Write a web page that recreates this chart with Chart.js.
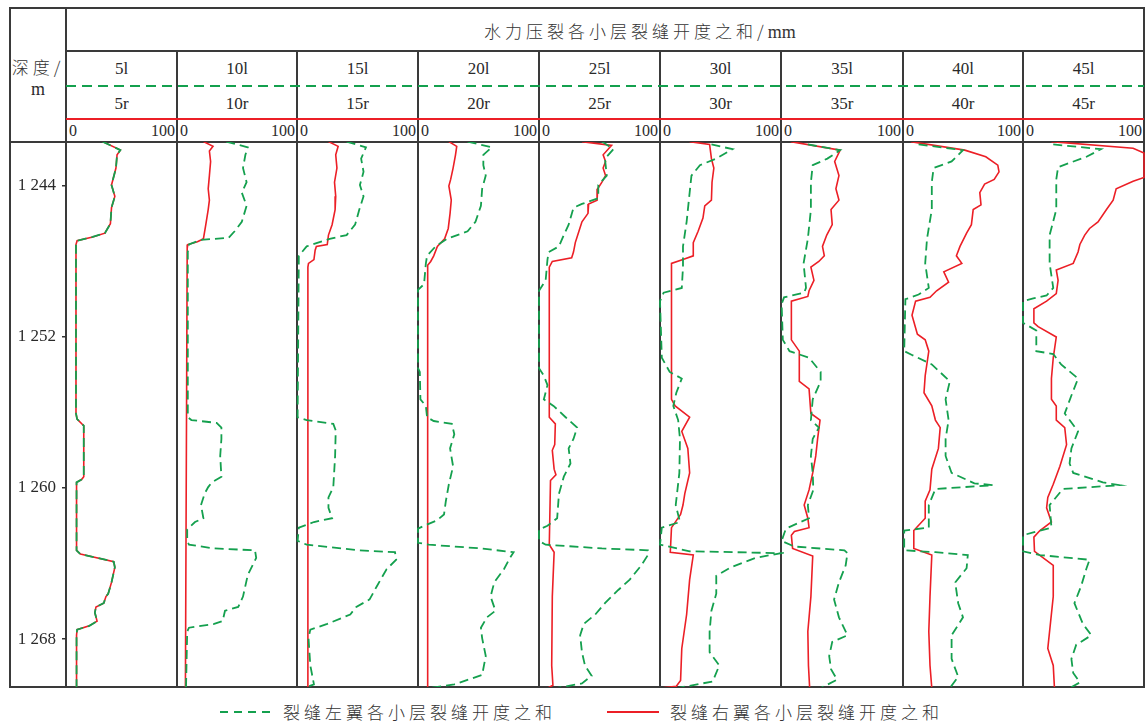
<!DOCTYPE html>
<html>
<head>
<meta charset="utf-8">
<script src="https://cdn.jsdelivr.net/npm/chart.js@4.4.1/dist/chart.umd.min.js"></script>
<style>
body { margin: 0; width: 1147px; height: 724px; overflow: hidden; position: relative; background: #fff;
       font-family: "Liberation Serif", "Noto Sans CJK SC", serif; color: #2a2a2a; }
.ln { position: absolute; background: #3a3a3a; z-index: 1; }
.t { position: absolute; white-space: nowrap; line-height: 1; }
.cjk { font-family: "Noto Sans CJK SC", sans-serif; font-weight: 300; font-size: 17px; letter-spacing: 4px; color: #333; }
canvas { position: absolute; z-index: 2; }
</style>
</head>
<body>
<script>
// depth range and tick labels
const depthMin = 1241.67;
const depthMax = 1270.54;
const depthTicks = [1244, 1252, 1260, 1268];
const depthTickLabels = ['1 244', '1 252', '1 260', '1 268'];

const leftLabels = ['5l', '10l', '15l', '20l', '25l', '30l', '35l', '40l', '45l'];
const rightLabels = ['5r', '10r', '15r', '20r', '25r', '30r', '35r', '40r', '45r'];

// [depth m, aperture sum mm]
const l5 = [[1241.65,33],[1242.1,49],[1242.35,46],[1243.05,45],[1243.95,41],[1244.55,44],[1245.15,41],[1246.0,40],[1246.5,35],[1246.7,24],[1246.9,10],[1247.1,9],[1256.05,9],[1256.35,10],[1256.7,16],[1259.4,16],[1259.55,14],[1259.7,9.5],[1263.3,9.5],[1263.5,13],[1263.9,43],[1264.2,44],[1265.0,41],[1265.6,38],[1265.75,36],[1266.1,34],[1266.3,27],[1266.6,26],[1267.05,28],[1267.3,21],[1267.5,10],[1267.8,9.5],[1270.6,9.5]];
const r5 = [[1241.65,33],[1242.1,49],[1242.35,46],[1243.05,45],[1243.95,41],[1244.55,44],[1245.15,41],[1246.0,40],[1246.5,35],[1246.7,24],[1246.9,10],[1247.1,9],[1256.05,9],[1256.35,10],[1256.7,16],[1259.4,16],[1259.55,14],[1259.7,9.5],[1263.3,9.5],[1263.5,13],[1263.9,43],[1264.2,44],[1265.0,41],[1265.6,38],[1265.75,36],[1266.1,34],[1266.3,27],[1266.6,26],[1267.05,28],[1267.3,21],[1267.5,10],[1267.8,9.5],[1270.6,9.5]];

const l10 = [[1241.65,41],[1241.95,59],[1242.35,57],[1243.05,55],[1243.8,58],[1244.35,54],[1245.05,58],[1245.9,54],[1246.4,48],[1246.75,43],[1246.85,20],[1247.1,10],[1247.5,9],[1256.25,9],[1256.4,12],[1256.55,33],[1256.8,37],[1257.4,37],[1258.3,36],[1259.4,37],[1259.7,29],[1259.95,26],[1260.3,23],[1260.9,20],[1261.6,22],[1261.8,15],[1262.2,8.5],[1262.8,8.5],[1263.0,10],[1263.2,31],[1263.3,65],[1263.7,66],[1264.6,59],[1265.75,55],[1266.3,51],[1266.5,40],[1267.05,38],[1267.2,31],[1267.4,10],[1267.6,8.5],[1270.6,7.5]];
const r10 = [[1241.65,22],[1241.9,30],[1242.15,27],[1242.7,28],[1243.45,27],[1244.15,26],[1244.75,27],[1245.25,26],[1246.05,24],[1246.8,22],[1246.95,17],[1247.1,9],[1247.3,8.5],[1270.6,7]];

const l15 = [[1241.65,41],[1241.95,57],[1242.55,53],[1243.25,55],[1243.95,52],[1244.55,55],[1245.25,51.5],[1246.05,48],[1246.6,41],[1246.8,27],[1247.2,8],[1247.7,1.5],[1256.25,0.5],[1256.4,8],[1256.6,30],[1256.95,32],[1258.3,31.5],[1259.95,30],[1260.5,26],[1261.05,26],[1261.6,29],[1261.8,14],[1262.1,1.5],[1262.8,0.5],[1263.0,8],[1263.3,52],[1263.4,81],[1263.8,82],[1264.3,74],[1265.2,66],[1265.9,60],[1266.3,49],[1266.7,44],[1267.2,25],[1267.5,11],[1267.95,9.5],[1269.4,11],[1270.4,14],[1270.6,5.5]];
const r15 = [[1241.65,26],[1241.9,34],[1242.35,32],[1243.05,33],[1243.8,31],[1244.55,32],[1245.25,31.5],[1246.05,29],[1246.6,26],[1247.1,25],[1247.2,16],[1247.4,15],[1247.9,14],[1248.1,9.5],[1248.3,9],[1270.6,9]];

const l20 = [[1241.65,41],[1241.95,61],[1242.35,54],[1242.9,54],[1243.45,56],[1244.15,53],[1245.05,52],[1245.9,47.5],[1246.4,41],[1246.8,24],[1247.2,14.5],[1247.7,7.5],[1248.1,6.5],[1249.2,5],[1249.5,0],[1253.65,0],[1253.85,1.5],[1255.3,2],[1255.65,6.5],[1256.25,7.5],[1256.45,13],[1256.6,28],[1257.15,30],[1257.9,26.5],[1258.85,29],[1259.8,25.5],[1260.7,23],[1261.4,21.5],[1261.7,16],[1262.0,5],[1262.15,0],[1262.9,0],[1263.0,9],[1263.2,52],[1263.4,79],[1263.7,76],[1264.3,71],[1265.0,63],[1265.75,60],[1266.5,64],[1266.85,57],[1267.4,52],[1267.95,53],[1268.9,56],[1269.9,53],[1270.4,30],[1270.6,9]];
const r20 = [[1241.65,25.5],[1241.9,32],[1242.35,31],[1243.05,29],[1243.65,27],[1244.0,25.5],[1244.75,27.5],[1245.45,26.5],[1246.25,25],[1246.8,22],[1247.2,16],[1247.7,13],[1248.0,10.5],[1248.2,8],[1270.6,8]];

const l25 = [[1241.65,52],[1242.05,61.5],[1242.55,54.5],[1243.45,56],[1243.95,49],[1244.65,49],[1244.95,35.5],[1245.15,28.5],[1246.05,24.5],[1246.6,20.5],[1247.2,16.5],[1247.5,8],[1247.9,7],[1249.0,5.5],[1249.55,0],[1253.65,0],[1254.05,4],[1254.55,7],[1255.3,4],[1255.65,12],[1256.25,22],[1256.8,31.5],[1257.4,28.5],[1257.9,24.5],[1258.7,26],[1259.4,20.5],[1260.3,16.5],[1261.6,15],[1262.0,7],[1262.2,0],[1262.8,0],[1263.0,5.5],[1263.2,52],[1263.3,90],[1263.55,90],[1264.1,84.5],[1264.85,75],[1265.4,65.5],[1266.1,54.5],[1266.7,46.5],[1267.2,37],[1267.8,34],[1268.7,35.5],[1269.4,38],[1269.95,43.5],[1270.35,35.5],[1270.6,14]];
const r25 = [[1241.65,35.5],[1241.85,60],[1242.35,53],[1242.7,55],[1243.05,53],[1243.45,55],[1243.8,52],[1244.15,48.5],[1244.75,48],[1244.95,41],[1245.45,40.5],[1245.9,35.5],[1246.4,33],[1247.0,30],[1247.5,28.5],[1247.8,27],[1248.0,11],[1248.3,8.5],[1256.25,8.5],[1256.6,13.5],[1257.7,13],[1258.0,11],[1259.0,12.5],[1259.3,14],[1259.6,9.5],[1263.0,8.5],[1263.4,12.5],[1265.75,11],[1269.4,10.5],[1270.45,11.5],[1270.6,7]];

const l30 = [[1241.8,42.5],[1242.05,60],[1242.55,46.5],[1242.9,33],[1243.45,26],[1244.35,24.5],[1245.9,22],[1247.2,19],[1248.3,19],[1249.4,18],[1249.65,3],[1250.1,0],[1253.1,1.5],[1253.85,8],[1254.2,18],[1254.95,13.5],[1255.65,11],[1256.4,15],[1257.4,16.5],[1259.2,16],[1260.9,13],[1261.8,16.5],[1262.1,1.5],[1263.0,0],[1263.35,24.5],[1263.45,100],[1263.7,79],[1264.2,58.5],[1264.65,46.5],[1265.6,46.5],[1266.5,42.5],[1267.6,41],[1268.7,41],[1269.4,49],[1270.25,43.5],[1270.6,14]];
const r30 = [[1241.65,24.5],[1241.8,41],[1242.55,42.5],[1243.05,44.5],[1243.8,43],[1244.75,42.5],[1245.05,37],[1245.7,35.5],[1246.4,31.5],[1247.0,27.5],[1247.7,27.5],[1247.9,19],[1248.1,9.5],[1255.3,9.5],[1255.65,12.5],[1256.25,24.5],[1257.0,18],[1257.9,23],[1259.2,24.5],[1260.3,20.5],[1260.9,19],[1261.4,17],[1262.1,9.5],[1263.4,8.5],[1263.55,27.5],[1264.85,24.5],[1266.7,22],[1268.5,18],[1270.2,17],[1270.5,13.5],[1270.6,0]];

const l35 = [[1241.8,22],[1242.1,48.5],[1242.55,38],[1242.9,26],[1243.8,24.5],[1245.25,24.5],[1246.8,22],[1248.1,18.5],[1249.4,20.5],[1249.65,19],[1249.9,2.5],[1250.25,0.5],[1252.15,1.5],[1252.75,7],[1253.1,23],[1253.85,32.5],[1254.35,32.5],[1255.3,26],[1256.4,24.5],[1256.8,31],[1257.4,26],[1258.3,24.5],[1259.2,26],[1260.1,26.5],[1260.9,22],[1261.6,23],[1262.15,4],[1262.8,0.5],[1263.1,11],[1263.3,52],[1263.45,54.5],[1264.1,53],[1265.0,47.5],[1265.9,43.5],[1266.85,47.5],[1267.8,54.5],[1268.15,42],[1268.9,39.5],[1269.6,41],[1270.15,46],[1270.6,32.5]];
const r35 = [[1241.65,8],[1242.1,48.5],[1242.7,44],[1243.45,47.5],[1244.15,45],[1244.75,47.5],[1245.25,41],[1246.05,42],[1246.6,37.5],[1247.2,34],[1247.7,35.5],[1248.0,31],[1248.3,24.5],[1249.0,27],[1249.55,23],[1249.85,22],[1250.1,8.5],[1252.15,8.5],[1252.75,15],[1254.35,15],[1254.75,23],[1256.05,24.5],[1256.4,32],[1257.4,30],[1258.3,28.5],[1259.2,26],[1260.1,23],[1260.9,19],[1261.6,22],[1262.1,23],[1262.3,11],[1262.5,8.5],[1263.2,9.5],[1263.6,26],[1265.75,24.5],[1267.6,22],[1269.4,22.5],[1270.6,23.5]];

const l40 = [[1241.8,13],[1242.1,50],[1242.7,40.5],[1243.05,25.5],[1243.8,24],[1245.25,24],[1246.8,20],[1248.1,18.5],[1249.4,21.5],[1249.75,13],[1250.0,2],[1252.75,1],[1252.95,7.5],[1253.45,24],[1254.35,39],[1255.3,35.5],[1256.4,38],[1257.4,35.5],[1258.3,35.5],[1259.2,40.5],[1259.75,59.5],[1259.85,75],[1260.05,27],[1260.9,21.5],[1262.1,21.5],[1262.25,1],[1263.3,1],[1263.4,27],[1263.55,54],[1264.25,53],[1265.0,43.5],[1266.1,46],[1266.85,50],[1267.8,40.5],[1269.05,40.5],[1270.0,46],[1270.6,39]];
const r40 = [[1241.65,6.5],[1242.1,51.5],[1242.45,69],[1242.9,79],[1243.25,80],[1243.65,76],[1243.9,68],[1244.35,64],[1245.0,65],[1245.25,58.5],[1246.05,57],[1246.5,53],[1247.2,47.5],[1247.7,44.5],[1248.1,49],[1248.55,34],[1249.1,38],[1249.55,28],[1249.9,22.5],[1250.1,10.5],[1250.85,7.5],[1251.85,12],[1252.15,18.5],[1252.75,21.5],[1254.05,18.5],[1254.95,17.5],[1255.65,24],[1256.4,27],[1256.8,31],[1257.9,29.5],[1259.0,24],[1260.1,22.5],[1260.7,18.5],[1261.6,18.5],[1262.25,9],[1263.2,9],[1263.55,24],[1265.75,22.5],[1267.6,21.5],[1269.4,22.5],[1270.6,24]];

const l45 = [[1241.8,25],[1242.05,64.5],[1242.45,52.5],[1243.0,29],[1243.65,27.5],[1245.25,27.5],[1246.6,22],[1248.1,22],[1249.4,25],[1249.8,19.5],[1249.95,8.5],[1250.1,0],[1251.25,0],[1251.45,5.5],[1251.65,11],[1252.75,11],[1252.9,25],[1253.45,31.5],[1254.2,45.5],[1255.1,40],[1256.05,34.5],[1257.0,45.5],[1257.9,40],[1258.7,38.5],[1259.2,41.5],[1259.7,66],[1259.85,80],[1260.05,33],[1260.9,22],[1262.1,23.5],[1262.35,8.5],[1262.5,0],[1263.35,0],[1263.55,14],[1263.8,55],[1264.25,52.5],[1265.2,48],[1266.1,42.5],[1267.2,49.5],[1267.8,56.5],[1268.3,44],[1269.05,40],[1269.8,41.5],[1270.3,47],[1270.6,38.5]];
const r45 = [[1241.65,23.5],[1242.0,91],[1242.25,100],[1243.55,100],[1243.75,91],[1244.15,77],[1244.75,74.5],[1245.25,69],[1245.9,62],[1246.25,55],[1246.6,51],[1247.1,47],[1247.5,45.5],[1248.1,41.5],[1248.45,27.5],[1249.0,29],[1249.7,27.5],[1250.1,19.5],[1250.5,9],[1251.25,9],[1251.45,12.5],[1252.0,27.5],[1253.1,25],[1254.2,23.5],[1255.3,23.5],[1255.65,27.5],[1256.4,27.5],[1256.8,34.5],[1257.7,36],[1258.85,30.5],[1259.8,25],[1260.5,20.5],[1261.05,19.5],[1261.8,23.5],[1262.25,14],[1262.6,9],[1263.35,9.5],[1264.1,25],[1265.75,25],[1268.5,20.5],[1269.4,25],[1270.6,26]];

const leftSeries = [l5, l10, l15, l20, l25, l30, l35, l40, l45];
const rightSeries = [r5, r10, r15, r20, r25, r30, r35, r40, r45];

const GREEN = '#14a04e';
const RED = '#ec1f26';
const legendLeft = '裂缝左翼各小层裂缝开度之和';
const legendRight = '裂缝右翼各小层裂缝开度之和';

// layout of the table (pixels)
const trackEdges = [66, 177, 297, 418, 539, 660, 781, 903, 1023, 1144];
const plotTop = 142, plotH = 545;

function line(x, y, w, h, bg) {
  const d = document.createElement('div');
  d.className = 'ln';
  d.style.cssText = `left:${x}px;top:${y}px;width:${w}px;height:${h}px;` + (bg ? `background:${bg};` : '');
  document.body.appendChild(d);
  return d;
}
function text(str, x, y, opts = {}) {
  const d = document.createElement('div');
  d.className = 't' + (opts.cls ? ' ' + opts.cls : '');
  d.textContent = str;
  d.style.top = y + 'px';
  d.style.fontSize = (opts.size || 17) + 'px';
  if (opts.align === 'center') { d.style.left = x + 'px'; d.style.transform = 'translate(-50%,0)'; }
  else if (opts.align === 'right') { d.style.right = (1147 - x) + 'px'; }
  else d.style.left = x + 'px';
  document.body.appendChild(d);
  return d;
}

/* ---------- table frame ---------- */
line(9, 7, 1136, 2);
line(9, 7, 2, 681);
line(1143, 7, 2, 681);
line(9, 686, 1136, 2);
line(65, 7, 2, 681);
line(66, 50, 1078, 2);
line(9, 141, 1136, 2);
for (let i = 1; i < trackEdges.length - 1; i++) line(trackEdges[i] - 1, 50, 2, 638);
line(66, 85, 1078, 2, `repeating-linear-gradient(to right, ${GREEN} 0 10px, transparent 10px 16px)`);
line(66, 118, 1078, 2, RED);

/* ---------- header texts ---------- */
text('深度/', 38, 58, { align: 'center', cls: 'cjk' });
text('m', 38, 80, { align: 'center', size: 18 });
const title = text('水力压裂各小层裂缝开度之和/', 484, 22, { cls: 'cjk' });
const mm = document.createElement('span');
mm.textContent = 'mm';
mm.style.cssText = 'font-family:"Liberation Serif",serif;font-size:18px;letter-spacing:0;font-weight:400;';
title.appendChild(mm);

for (let i = 0; i < leftLabels.length; i++) {
  const cx = (trackEdges[i] + trackEdges[i + 1]) / 2;
  text(leftLabels[i], cx, 60, { align: 'center' });
  text(rightLabels[i], cx, 95, { align: 'center' });
  text('0', trackEdges[i] + 3, 123, { size: 16 });
  text('100', trackEdges[i + 1] - 2, 123, { align: 'right', size: 16 });
}

/* ---------- legend ---------- */
function legendItem(x, color, dashed, label) {
  const s = document.createElement('div');
  s.style.cssText = `position:absolute;left:${x}px;top:711px;width:52px;height:2px;` +
    (dashed ? `background:repeating-linear-gradient(to right, ${color} 0 8px, transparent 8px 14px);` : `background:${color};`);
  document.body.appendChild(s);
  text(label, x + 63, 703, { cls: 'cjk' });
}
legendItem(220, GREEN, true, legendLeft);
legendItem(607, RED, false, legendRight);

/* ---------- tracks ---------- */
const toPts = arr => arr.map(([d, v]) => ({ x: v, y: d }));

function makeTrack(i) {
  const first = i === 0;
  const left = first ? 9 : trackEdges[i] - 3;
  const width = trackEdges[i + 1] + 3 - left;
  const c = document.createElement('canvas');
  c.width = width; c.height = plotH;
  c.style.left = left + 'px';
  c.style.top = plotTop + 'px';
  document.body.appendChild(c);

  new Chart(c, {
    type: 'line',
    data: {
      datasets: [
        { label: legendLeft, data: toPts(leftSeries[i]), borderColor: GREEN, borderWidth: 1.8,
          borderDash: [9, 5], pointRadius: 0, tension: 0, clip: 3 },
        { label: legendRight, data: toPts(rightSeries[i]), borderColor: RED, borderWidth: 1.6,
          pointRadius: 0, tension: 0, clip: 3 }
      ]
    },
    options: {
      responsive: false,
      animation: false,
      events: [],
      indexAxis: 'y',
      layout: { padding: { left: first ? 0 : 3, right: 3, top: 0, bottom: 0 }, autoPadding: false },
      plugins: { legend: { display: false }, tooltip: { enabled: false } },
      scales: {
        x: { type: 'linear', min: 0, max: 100, display: false },
        y: {
          type: 'linear', min: depthMin, max: depthMax, reverse: true,
          display: first, position: 'left',
          afterFit: s => {
            if (!first) return;
            s.width = 57;
            s.paddingTop = 0;
            s.paddingBottom = 0;
          },
          afterBuildTicks: s => { s.ticks = depthTicks.map(v => ({ value: v })); },
          ticks: {
            callback: v => depthTickLabels[depthTicks.indexOf(v)],
            font: { family: 'Liberation Serif', size: 17 }, color: '#2a2a2a', padding: 6
          },
          grid: { drawOnChartArea: false, tickLength: 4, color: '#333', lineWidth: 1.5 },
          border: { display: false }
        }
      }
    }
  });
}

for (let i = 0; i < leftSeries.length; i++) makeTrack(i);
</script>
</body>
</html>
